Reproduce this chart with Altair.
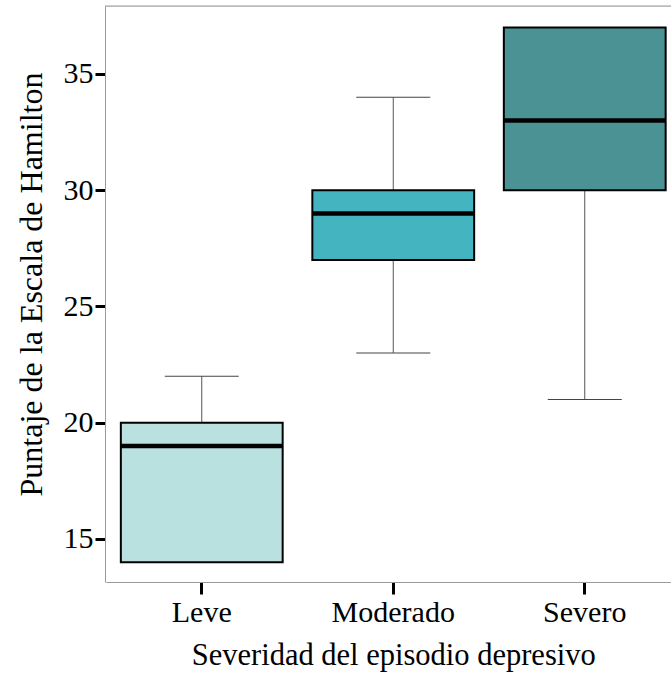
import altair as alt
import pandas as pd

categories = ["Leve", "Moderado", "Severo"]
lower = [14, 23, 21]
q1 = [14, 27, 30]
median = [19, 29, 33]
q3 = [20, 30, 37]
upper = [22, 34, 37]
fills = ["#B8E1DF", "#45B4C1", "#4B9294"]
y_ticks = [15, 20, 25, 30, 35]

df = pd.DataFrame(dict(cat=categories, lower=lower, q1=q1, median=median,
                       q3=q3, upper=upper, fill=fills))

W, H = 566, 576
FONT = "Liberation Serif"
FRAME = "#9a9a9a"

xenc = alt.X("cat:N", sort=categories,
             scale=alt.Scale(range=[1, 575.5], paddingInner=0, paddingOuter=0),
             axis=alt.Axis(title="Severidad del episodio depresivo", labelAngle=0,
                           labelFont=FONT, labelFontSize=30, labelColor="black",
                           titleFont=FONT, titleFontSize=30.5, titleFontWeight="normal",
                           titleColor="black", tickColor="black", tickWidth=3,
                           tickSize=12, labelPadding=3, titlePadding=13,
                           domainColor=FRAME, domainWidth=1))
yscale = alt.Scale(domain=[13.15, 37.92], nice=False, zero=False)
yaxis = alt.Axis(title="Puntaje de la Escala de Hamilton", values=y_ticks,
                 labelFont=FONT, labelFontSize=30, labelColor="black",
                 titleFont=FONT, titleFontSize=32, titleFontWeight="normal",
                 titleColor="black", tickColor="black", tickWidth=3, tickSize=10,
                 labelPadding=2, titleY=278, titleX=-89, titleAlign="center",
                 titleBaseline="top", grid=False,
                 domainColor=FRAME, domainWidth=1)

base = alt.Chart(df)

whisk_lo = base.mark_rule(color="#555555", strokeWidth=1).encode(
    x=xenc, y=alt.Y("lower:Q", scale=yscale, axis=yaxis), y2="q1:Q")
whisk_hi = base.mark_rule(color="#555555", strokeWidth=1).encode(
    x="cat:N", y="q3:Q", y2="upper:Q")
cap_lo = base.mark_tick(color="#444444", size=74, thickness=1, opacity=1).encode(
    x="cat:N", y="lower:Q")
cap_hi = base.mark_tick(color="#444444", size=74, thickness=1, opacity=1).encode(
    x="cat:N", y="upper:Q")
box = base.mark_bar(stroke="black", strokeWidth=2, opacity=1,
                    width={"band": 0.845}).encode(
    x="cat:N", y="q1:Q", y2="q3:Q", color=alt.Color("fill:N", scale=None))
med = base.mark_tick(color="black", size=162, thickness=4.5, opacity=1).encode(
    x="cat:N", y="median:Q")
top = alt.Chart(alt.Data(values=[{"a": 1}])).mark_rule(
    color=FRAME, strokeWidth=1).encode(
    x=alt.value(0), x2=alt.value(W), y=alt.value(0))

chart = alt.layer(whisk_lo, whisk_hi, cap_lo, cap_hi, box, med, top).properties(
    width=W, height=H, autosize="none",
    padding={"left": 105, "top": 6, "right": 0, "bottom": 98},
).configure_view(stroke=None).configure(background="white")

chart.save("out.html", embed_options={"renderer": "svg", "actions": False})
